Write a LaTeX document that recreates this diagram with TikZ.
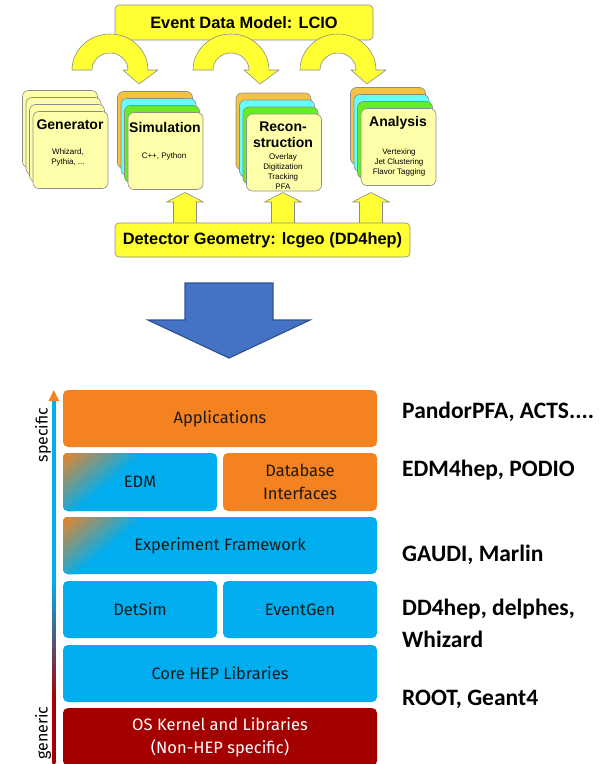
\documentclass[tikz,border=0pt]{standalone}
\usepackage{fontspec}
\setmainfont{Fira Sans}
\newfontfamily\arialfont{Liberation Sans}
\newfontfamily\calfont{Carlito}
\usepackage{xcolor}
\usepackage{tikz}
\usetikzlibrary{calc}
\definecolor{lemon}{HTML}{FFFF33}
\definecolor{paper}{HTML}{FFFFAA}
\definecolor{gold}{HTML}{F5C242}
\definecolor{aqua}{HTML}{66FFFF}
\definecolor{lime}{HTML}{66EE22}
\definecolor{rim}{HTML}{8C8C8C}
\definecolor{royal}{HTML}{4472C4}
\definecolor{royaldark}{HTML}{2F528F}
\definecolor{hepblue}{HTML}{00AEEF}
\definecolor{heporange}{HTML}{F58220}
\definecolor{osred}{HTML}{A50000}
\definecolor{ink}{HTML}{1A1A1A}
\pgfdeclareverticalshading{axisshade}{100bp}{color(0bp)=(osred); color(34bp)=(osred); color(50bp)=(hepblue); color(100bp)=(hepblue)}
\tikzset{
  band/.style={fill=lemon, draw=rim, line width=0.6pt, line join=round},
  card/.style={fill=paper, draw=rim, line width=0.6pt, rounded corners=6pt, minimum width=75pt, minimum height=77pt, inner sep=0pt},
  banner/.style={fill=lemon, draw=rim, line width=0.6pt, rounded corners=4pt, inner sep=0pt, font=\arialfont\bfseries\fontsize{16.4}{19}\selectfont},
  ttl/.style={font=\arialfont\bfseries\fontsize{14}{16}\selectfont, align=center, inner sep=0pt},
  sml/.style={font=\arialfont\fontsize{8}{10}\selectfont, align=center, inner sep=0pt},
  layer/.style={fill=hepblue, rounded corners=5pt, minimum height=57pt, inner sep=0pt, text=ink, align=center, font=\fontsize{16.5}{23}\selectfont},
  mixed/.style={layer, path picture={
    \foreach \g [evaluate=\g as \p using {100-100*\g/54}, evaluate=\g as \ga using {\g/0.64},
                 evaluate=\g as \gb using {\g/0.77}] in {54,52,...,2}
      \fill[heporange!\p!hepblue] (path picture bounding box.north west) -- ++(\ga pt,0pt) -- ++(-\ga pt,-\gb pt) -- cycle;}},
  tool/.style={anchor=base west, align=left, inner sep=0pt, font=\calfont\bfseries\fontsize{23.5}{32}\selectfont},
  side/.style={rotate=90, inner sep=0pt, font=\fontsize{16}{18}\selectfont},
}
\begin{document}
\begin{tikzpicture}[x=1pt,y=-1pt]
  \useasboundingbox (0,0) rectangle (611,764);
  % event data model flow
  \node[banner, minimum width=258pt, minimum height=35pt] (lcio) at (244,22.5) {Event Data Model: LCIO};
  \foreach \cx/\cy/\nm/\ca/\cb/\cc in {70.5/150/gen/paper/paper/paper,165.5/151/sim/gold/aqua/lime,284/152.5/rec/gold/aqua/lime,398.5/147/ana/gold/aqua/lime}{
    \foreach \k/\col in {3/\ca,2/\cb,1/\cc}
      \node[card,fill=\col] (\nm\k) at (\cx-3.5*\k,\cy-7*\k) {};
    \node[card] (\nm) at (\cx,\cy) {};
  }
  \foreach \ax in {110,231,338}
    \draw[band] (\ax-38,70) arc[start angle=180, end angle=360, x radius=38, y radius=36]
      -- (\ax+48,70) -- (\ax+29,84) -- (\ax+13,70) -- (\ax+18,70)
      arc[start angle=360, end angle=180, x radius=18, y radius=17] -- cycle;
  \node[ttl] (genT) at (70,125) {Generator};
  \node[sml] (genS) at (68,157) {Whizard,\\Pythia, ...};
  \node[ttl] (simT) at (165,127) {Simulation};
  \node[sml] (simS) at (164,156) {C++, Python};
  \node[ttl] (recT) at (283,135) {Recon-\\struction};
  \node[sml] (recS) at (283,171.5) {Overlay\\Digitization\\Tracking\\PFA};
  \node[ttl] (anaT) at (398,123) {Analysis};
  \node[sml] (anaS) at (399,162.5) {Vertexing\\Jet Clustering\\Flavor Tagging};
  \foreach \ux in {185,283,371}
    \draw[band] (\ux-11.5,226) -- (\ux-11.5,202) -- (\ux-18.5,202) -- (\ux,192.5)
      -- (\ux+18.5,202) -- (\ux+11.5,202) -- (\ux+11.5,226);
  \node[banner, minimum width=295pt, minimum height=34pt] (geo) at (262.5,240) {Detector Geometry: lcgeo (DD4hep)};
  % big arrow down
  \draw[fill=royal, draw=royaldark, line width=1.2pt] (185,283) -- (273,283) -- (273,320) -- (310,320)
    -- (229,358) -- (148,320) -- (185,320) -- cycle;
  % software layers
  \node[layer, fill=heporange, minimum width=314pt] (app) at (220,418.5) {Applications};
  \node[mixed, minimum width=154pt, minimum height=58pt] (edm) at (140,482) {EDM};
  \node[layer, fill=heporange, minimum width=154pt, minimum height=58pt] (dbi) at (300,482) {Database\\Interfaces};
  \node[mixed, minimum width=314pt] (exf) at (220,545.5) {Experiment Framework};
  \node[layer, minimum width=154pt] (dsim) at (140,609.5) {DetSim};
  \node[layer, minimum width=154pt] (egen) at (300,609.5) {EventGen};
  \node[layer, minimum width=314pt] (core) at (220,673.5) {Core HEP Libraries};
  \node[layer, fill=osred, text=white, minimum width=314pt, minimum height=58pt] (os) at (220,737) {OS Kernel and Libraries\\(Non-HEP specific)};
  % generic -> specific axis
  \coordinate (axbot) at (52.3,764);
  \coordinate (axtop) at (55.3,400);
  \shade[shading=axisshade] (axbot) rectangle (axtop);
  \fill[heporange] (48.5,401) -- (53.8,390) -- (59.1,401) -- cycle;
  \node[side] (spec) at (43,435) {specific};
  \node[side] (gnrc) at (43,733) {generic};
  % tools
  \node[tool] (tl1) at (402,418) {PandorPFA, ACTS....};
  \node[tool] (tl2) at (402,476) {EDM4hep, PODIO};
  \node[tool] (tl3) at (402,561) {GAUDI, Marlin};
  \node[tool] (tl4) at (402,647) {DD4hep, delphes,\\Whizard};
  \node[tool] (tl5) at (402,705) {ROOT, Geant4};
\end{tikzpicture}
\end{document}
